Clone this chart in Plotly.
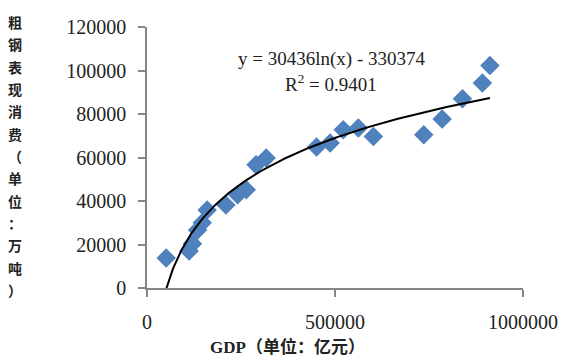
import numpy as np
import plotly.graph_objects as go

# Data
gdp = [51000, 112000, 121000, 134500, 147000, 160000, 210000, 241000, 264000,
       290000, 317000, 451000, 487000, 522000, 562000, 602000, 736000, 785000,
       839000, 892000, 912000]
steel = [13800, 17000, 20300, 26700, 30000, 35900, 38200, 42900, 45200,
         56700, 59800, 64800, 66700, 72800, 73600, 69700, 70500, 77700,
         87000, 94300, 102300]

x_ticks = [0, 500000, 1000000]
x_tick_text = ["0", "500000", "1000000"]
y_ticks = [0, 20000, 40000, 60000, 80000, 100000, 120000]
y_tick_text = ["0", "20000", "40000", "60000", "80000", "100000", "120000"]

# Trend line as stated in the chart
coef_a = 30436
coef_b = -330374
eq_text = "y = 30436ln(x) - 330374"
r2_text = "R<sup>2</sup> = 0.9401"
y_title = "粗钢表现消费（单位：万吨）"
x_title = "GDP（单位：亿元）"

W, H = 563, 356
L, R, T, B = 147, 40, 27, 68

tx = np.linspace(min(gdp), max(gdp), 300)
ty = coef_a * np.log(tx) + coef_b

fig = go.Figure()
fig.add_trace(go.Scatter(x=gdp, y=steel, mode="markers",
                         marker=dict(symbol="diamond", size=15, color="#4F81BD",
                                     line=dict(width=0)),
                         showlegend=False, cliponaxis=False))
fig.add_trace(go.Scatter(x=tx, y=ty, mode="lines",
                         line=dict(color="black", width=2),
                         showlegend=False))

serif = "Liberation Serif, Times New Roman, serif"
axis_common = dict(showgrid=False, zeroline=False, showline=True,
                   linecolor="#868686", linewidth=1.5, ticks="outside",
                   ticklen=7, tickcolor="#868686", tickwidth=1.5,
                   tickfont=dict(family=serif, size=20, color="#222222"),
                   tickmode="array", automargin=False)

fig.update_layout(
    template="none",
    width=W, height=H,
    margin=dict(l=L, r=R, t=T, b=B, pad=0, autoexpand=False),
    paper_bgcolor="white", plot_bgcolor="white",
    xaxis=dict(range=[0, 1000000], tickvals=x_ticks, ticktext=x_tick_text,
               ticklabelstandoff=8, **axis_common),
    yaxis=dict(range=[0, 120000], tickvals=y_ticks, ticktext=y_tick_text,
               ticklabelstandoff=8, **axis_common),
)

pw = W - L - R
ph = H - T - B

def px(xp):
    return (xp - L) / pw

def py(yp):
    return (H - B - yp) / ph

ann = []
ann.append(dict(text=eq_text, x=px(331), y=py(59), xref="paper", yref="paper",
                showarrow=False, xanchor="center", yanchor="middle",
                font=dict(family=serif, size=19, color="#222222")))
ann.append(dict(text=r2_text, x=px(331), y=py(83), xref="paper", yref="paper",
                showarrow=False, xanchor="center", yanchor="middle",
                font=dict(family=serif, size=19, color="#222222")))
ann.append(dict(text="<b>" + x_title + "</b>", x=px(287), y=py(347),
                xref="paper", yref="paper", showarrow=False,
                xanchor="center", yanchor="middle",
                font=dict(family="Liberation Serif, Noto Sans CJK SC", size=17,
                          color="#222222")))
n = len(y_title)
for i, ch in enumerate(y_title):
    yc = 22 + i * (290 - 22) / (n - 1)
    ann.append(dict(text="<b>" + ch + "</b>", x=px(15), y=py(yc),
                    xref="paper", yref="paper", showarrow=False,
                    xanchor="center", yanchor="middle",
                    font=dict(family="Noto Sans CJK SC", size=14,
                              color="#222222")))
fig.update_layout(annotations=ann)

fig.write_html("out.html", config={"displayModeBar": False},
               post_script="document.body.style.margin='0';"
                           "document.body.style.overflow='hidden';")
